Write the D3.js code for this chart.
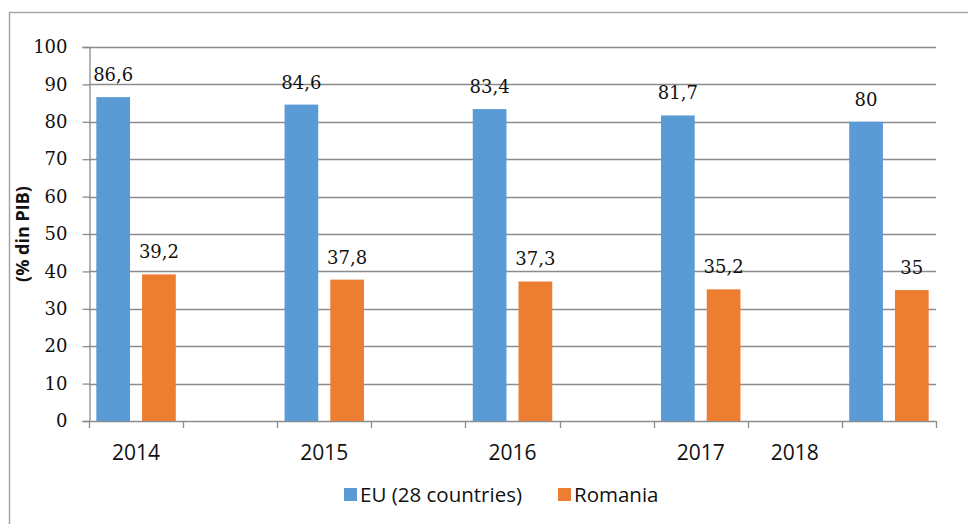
<!DOCTYPE html>
<html>
<head>
<meta charset="utf-8">
<script src="https://cdn.jsdelivr.net/npm/d3@7/dist/d3.min.js"></script>
<style>
  html, body { margin: 0; padding: 0; background: #fff; }
  svg { display: block; }
</style>
</head>
<body>
<svg id="chart" width="968" height="524"></svg>
<script>
// Category slots along the x axis (empty slots separate the years)
const slots = [0, 1, 2, 3, 4, 5, 6, 7, 8];
const slotLabels = ["2014", "", "2015", "", "2016", "", "2017", "2018", ""];

// Series values per slot (null = no bar in that slot)
const euValues = [86.6, null, 84.6, null, 83.4, null, 81.7, null, 80];
const roValues = [39.2, null, 37.8, null, 37.3, null, 35.2, null, 35];

const seriesNames = ["EU (28 countries)", "Romania"];
const seriesColors = ["#5B9BD5", "#ED7D31"];
const yTicks = [0, 10, 20, 30, 40, 50, 60, 70, 80, 90, 100];
const yTitle = "(% din PIB)";

const svg = d3.select("#chart");
const W = 968, H = 524;

// outer chart frame
svg.append("rect")
  .attr("x", 9.5).attr("y", 12.5)
  .attr("width", W + 20).attr("height", H + 20)
  .attr("fill", "#fff")
  .attr("stroke", "#a6a6a6").attr("stroke-width", 1.5);

const plot = { left: 89, right: 936, top: 47, bottom: 421 };

const x = d3.scaleBand().domain(slots).range([plot.left, plot.right]).padding(0);
const inner = d3.scaleBand().domain([0, 1]).range([0, x.bandwidth()])
  .paddingInner(0.263).paddingOuter(0.16);
const y = d3.scaleLinear().domain([0, 100]).range([plot.bottom, plot.top]);

const gridColor = "#8c8c8c";

// horizontal gridlines
svg.append("g")
  .selectAll("line")
  .data(yTicks.filter(t => t > 0))
  .join("line")
  .attr("x1", plot.left).attr("x2", plot.right)
  .attr("y1", d => Math.round(y(d)) + 0.5).attr("y2", d => Math.round(y(d)) + 0.5)
  .attr("stroke", gridColor).attr("stroke-width", 1.3);

// y axis
const yAxis = svg.append("g")
  .attr("transform", `translate(${plot.left + 0.5},0)`)
  .call(d3.axisLeft(y).tickValues(yTicks).tickSize(7).tickPadding(15).tickFormat(d3.format("d")));
yAxis.select(".domain").attr("stroke", gridColor).attr("stroke-width", 1.3);
yAxis.selectAll(".tick line").attr("stroke", gridColor).attr("stroke-width", 1.3);
yAxis.selectAll(".tick text")
  .attr("font-family", "'DejaVu Serif', 'Liberation Serif', serif")
  .attr("font-size", 18)
  .attr("fill", "#111");

// x axis baseline and slot boundary ticks
const xg = svg.append("g");
xg.append("line")
  .attr("x1", plot.left).attr("x2", plot.right)
  .attr("y1", plot.bottom + 0.5).attr("y2", plot.bottom + 0.5)
  .attr("stroke", gridColor).attr("stroke-width", 1.3);
const boundaries = slots.map(s => x(s)).concat([x(slots[slots.length - 1]) + x.bandwidth()]);
xg.selectAll("line.tick")
  .data(boundaries)
  .join("line")
  .attr("class", "tick")
  .attr("x1", d => Math.round(d) + 0.5).attr("x2", d => Math.round(d) + 0.5)
  .attr("y1", plot.bottom).attr("y2", plot.bottom + 7)
  .attr("stroke", gridColor).attr("stroke-width", 1.3);

// x category labels
xg.selectAll("text")
  .data(slots.filter(s => slotLabels[s] !== ""))
  .join("text")
  .attr("x", s => x(s) + x.bandwidth() / 2)
  .attr("y", 460)
  .attr("text-anchor", "middle")
  .attr("font-family", "'Open Sans', sans-serif")
  .attr("font-size", 21)
  .attr("fill", "#111")
  .text(s => slotLabels[s]);

// bars and value labels
const series = [euValues, roValues];
const fmt = v => String(v).replace(".", ",");
series.forEach((vals, si) => {
  const pts = slots.filter(s => vals[s] !== null);
  const g = svg.append("g");
  g.selectAll("rect")
    .data(pts)
    .join("rect")
    .attr("x", s => x(s) + inner(si))
    .attr("y", s => y(vals[s]))
    .attr("width", inner.bandwidth())
    .attr("height", s => y(0) - y(vals[s]))
    .attr("fill", seriesColors[si]);
  g.selectAll("text")
    .data(pts)
    .join("text")
    .attr("x", s => x(s) + inner(si) + inner.bandwidth() / 2)
    .attr("y", s => y(vals[s]) - 16)
    .attr("text-anchor", "middle")
    .attr("font-family", "'DejaVu Serif', 'Liberation Serif', serif")
    .attr("font-size", 18)
    .attr("fill", "#111")
    .text(s => fmt(vals[s]));
});

// y axis title
svg.append("text")
  .attr("transform", `translate(29,${(plot.top + plot.bottom) / 2}) rotate(-90)`)
  .attr("text-anchor", "middle")
  .attr("font-family", "'Open Sans', sans-serif")
  .attr("font-weight", "bold")
  .attr("font-size", 18)
  .attr("fill", "#111")
  .text(yTitle);

// legend
const legendItems = [
  { name: seriesNames[0], color: seriesColors[0], x: 344 },
  { name: seriesNames[1], color: seriesColors[1], x: 558 }
];
const lg = svg.append("g");
legendItems.forEach(it => {
  lg.append("rect")
    .attr("x", it.x).attr("y", 488)
    .attr("width", 13).attr("height", 13)
    .attr("fill", it.color);
  lg.append("text")
    .attr("x", it.x + 16).attr("y", 502)
    .attr("font-family", "'Open Sans', sans-serif")
    .attr("font-size", 20.5)
    .attr("fill", "#111")
    .text(it.name);
});
</script>
</body>
</html>
